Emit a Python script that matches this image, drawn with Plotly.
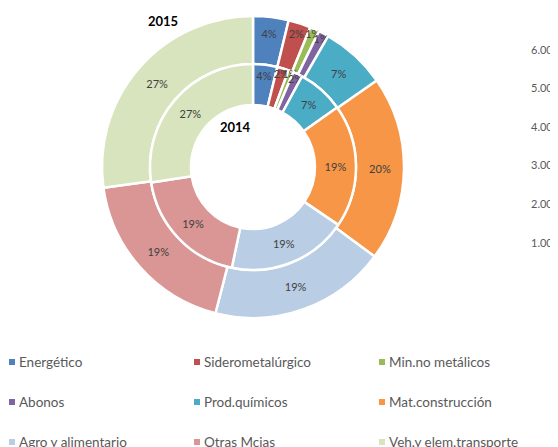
import plotly.graph_objects as go

categories = ["Energético", "Siderometalúrgico", "Min.no metálicos", "Abonos",
              "Prod.químicos", "Mat.construcción", "Agro y alimentario",
              "Otras Mcias", "Veh.y elem.transporte"]
values_2015 = [3.8, 2.4, 1.0, 1.1, 7.0, 19.8, 18.9, 18.8, 27.2]
values_2014 = [3.8, 1.8, 0.8, 1.5, 7.3, 19.3, 18.8, 19.3, 27.4]
colors = ["#4F81BD", "#C0504D", "#9BBB59", "#8064A2", "#4BACC6",
          "#F79646", "#B9CDE5", "#D99694", "#D7E4BD"]
axis_ticks = ["6.000", "5.000", "4.000", "3.000", "2.000", "1.000"]

W, H = 558, 447
OFF = 8                    # page body margin in the browser
FONT = "Lato"

def px(x):                 # screen x -> paper fraction
    return (x - OFF) / W

def py(y):                 # screen y (from top) -> paper fraction
    return 1 - (y - OFF) / H

cx, cy = 253, 167          # donut centre (screen px)
r_out, r_mid, r_in = 151, 103, 62

def dom(r):
    return dict(x=[px(cx - r), px(cx + r)], y=[py(cy + r), py(cy - r)])

fig = go.Figure()
for vals, r, hole, nm in [(values_2015, r_out, r_mid / r_out, "2015"),
                          (values_2014, r_mid, r_in / r_mid, "2014")]:
    fig.add_trace(go.Pie(labels=categories, values=vals, name=nm,
                         domain=dom(r), hole=hole, sort=False,
                         direction="clockwise", rotation=0,
                         marker=dict(colors=colors, line=dict(color="white", width=2.5)),
                         texttemplate="%{percent:.0%}", textposition="inside",
                         insidetextorientation="horizontal",
                         textfont=dict(family=FONT, size=11, color="#404040"),
                         hoverinfo="label+percent", showlegend=False))

# legend: 3 columns x 3 rows (squares as shapes, labels as text)
col_x = [12, 197, 382]      # square centres
row_y = [362, 402, 442]
shapes, annotations = [], []
for i, (cat, col) in enumerate(zip(categories, colors)):
    x0 = col_x[i % 3]
    y0 = row_y[i // 3]
    shapes.append(dict(type="rect", xref="paper", yref="paper",
                       x0=px(x0 - 3), x1=px(x0 + 3),
                       y0=py(y0 + 3), y1=py(y0 - 3),
                       fillcolor=col, line=dict(width=0)))
    annotations.append(dict(text=cat, x=px(x0 + 5), y=py(y0),
                            xref="paper", yref="paper", xanchor="left",
                            yanchor="middle", showarrow=False,
                            font=dict(family=FONT, size=13.5, color="#595959")))

annotations += [
    dict(text="<b>2015</b>", x=px(163), y=py(21), xref="paper", yref="paper",
         xanchor="center", yanchor="middle", showarrow=False,
         font=dict(family=FONT, size=13, color="black")),
    dict(text="<b>2014</b>", x=px(235), y=py(127), xref="paper", yref="paper",
         xanchor="center", yanchor="middle", showarrow=False,
         font=dict(family=FONT, size=13, color="black")),
]
for i, t in enumerate(axis_ticks):
    annotations.append(dict(text=t, x=px(529), y=py(49 + i * 38.6),
                            xref="paper", yref="paper", xanchor="left",
                            yanchor="middle", showarrow=False,
                            font=dict(family=FONT, size=11, color="#595959")))

fig.update_layout(width=W, height=H, margin=dict(l=0, r=0, t=0, b=0),
                  paper_bgcolor="white", plot_bgcolor="white",
                  uniformtext=dict(minsize=11, mode="show"),
                  shapes=shapes, annotations=annotations)
fig.write_html("out.html")
